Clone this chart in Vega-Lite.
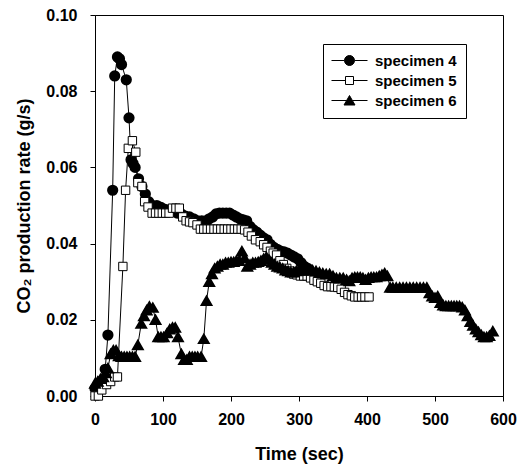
{
  "$schema": "https://vega.github.io/schema/vega-lite/v6.json",
  "width": 408,
  "height": 381,
  "autosize": {"type": "none"},
  "padding": {"left": 95, "top": 15, "right": 23, "bottom": 68},
  "background": "white",
  "config": {
    "view": {"stroke": "black", "strokeWidth": 1},
    "font": "Liberation Sans",
    "axis": {
      "grid": false,
      "labelFlush": false,
      "domainColor": "black",
      "domainWidth": 1,
      "tickColor": "black",
      "tickSize": 5,
      "labelFont": "Liberation Sans",
      "labelFontWeight": "bold",
      "labelFontSize": 16,
      "labelColor": "black",
      "titleFont": "Liberation Sans",
      "titleFontWeight": "bold",
      "titleFontSize": 18,
      "titleColor": "black"
    }
  },
  "datasets": {
    "rows": [
      {"s": "specimen 4", "t": 0, "v": 0.002},
      {"s": "specimen 4", "t": 5, "v": 0.003},
      {"s": "specimen 4", "t": 10, "v": 0.004},
      {"s": "specimen 4", "t": 15, "v": 0.007},
      {"s": "specimen 4", "t": 19, "v": 0.016},
      {"s": "specimen 4", "t": 26, "v": 0.054},
      {"s": "specimen 4", "t": 29, "v": 0.084},
      {"s": "specimen 4", "t": 33, "v": 0.089},
      {"s": "specimen 4", "t": 36, "v": 0.0885},
      {"s": "specimen 4", "t": 39, "v": 0.087},
      {"s": "specimen 4", "t": 46, "v": 0.083},
      {"s": "specimen 4", "t": 50, "v": 0.073},
      {"s": "specimen 4", "t": 53, "v": 0.062},
      {"s": "specimen 4", "t": 56, "v": 0.061},
      {"s": "specimen 4", "t": 59, "v": 0.06},
      {"s": "specimen 4", "t": 64, "v": 0.057},
      {"s": "specimen 4", "t": 69, "v": 0.055},
      {"s": "specimen 4", "t": 74, "v": 0.053},
      {"s": "specimen 4", "t": 79, "v": 0.051},
      {"s": "specimen 4", "t": 85, "v": 0.05},
      {"s": "specimen 4", "t": 91, "v": 0.05},
      {"s": "specimen 4", "t": 97, "v": 0.0495},
      {"s": "specimen 4", "t": 103, "v": 0.049},
      {"s": "specimen 4", "t": 109, "v": 0.0488},
      {"s": "specimen 4", "t": 115, "v": 0.0485},
      {"s": "specimen 4", "t": 121, "v": 0.048},
      {"s": "specimen 4", "t": 127, "v": 0.0478},
      {"s": "specimen 4", "t": 133, "v": 0.0472},
      {"s": "specimen 4", "t": 139, "v": 0.047},
      {"s": "specimen 4", "t": 145, "v": 0.0465},
      {"s": "specimen 4", "t": 151, "v": 0.046},
      {"s": "specimen 4", "t": 157, "v": 0.046},
      {"s": "specimen 4", "t": 163, "v": 0.046},
      {"s": "specimen 4", "t": 168, "v": 0.0465},
      {"s": "specimen 4", "t": 173, "v": 0.047},
      {"s": "specimen 4", "t": 178, "v": 0.0478},
      {"s": "specimen 4", "t": 183, "v": 0.048},
      {"s": "specimen 4", "t": 188, "v": 0.048},
      {"s": "specimen 4", "t": 193, "v": 0.048},
      {"s": "specimen 4", "t": 198, "v": 0.048},
      {"s": "specimen 4", "t": 203, "v": 0.0475},
      {"s": "specimen 4", "t": 208, "v": 0.047},
      {"s": "specimen 4", "t": 213, "v": 0.0465},
      {"s": "specimen 4", "t": 218, "v": 0.0462},
      {"s": "specimen 4", "t": 223, "v": 0.046},
      {"s": "specimen 4", "t": 228, "v": 0.0445},
      {"s": "specimen 4", "t": 233, "v": 0.0436},
      {"s": "specimen 4", "t": 238, "v": 0.043},
      {"s": "specimen 4", "t": 243, "v": 0.0422},
      {"s": "specimen 4", "t": 248, "v": 0.0415},
      {"s": "specimen 4", "t": 253, "v": 0.041},
      {"s": "specimen 4", "t": 258, "v": 0.0398},
      {"s": "specimen 4", "t": 263, "v": 0.039},
      {"s": "specimen 4", "t": 268, "v": 0.0385},
      {"s": "specimen 4", "t": 273, "v": 0.038},
      {"s": "specimen 4", "t": 278, "v": 0.0378},
      {"s": "specimen 4", "t": 283, "v": 0.0375},
      {"s": "specimen 4", "t": 288, "v": 0.037},
      {"s": "specimen 4", "t": 293, "v": 0.0365},
      {"s": "specimen 4", "t": 298, "v": 0.036},
      {"s": "specimen 4", "t": 303, "v": 0.035},
      {"s": "specimen 4", "t": 308, "v": 0.034},
      {"s": "specimen 4", "t": 313, "v": 0.0335},

      {"s": "specimen 5", "t": 0, "v": 0},
      {"s": "specimen 5", "t": 5, "v": 0},
      {"s": "specimen 5", "t": 10, "v": 0.0016},
      {"s": "specimen 5", "t": 17, "v": 0.003},
      {"s": "specimen 5", "t": 23, "v": 0.0038},
      {"s": "specimen 5", "t": 29, "v": 0.005},
      {"s": "specimen 5", "t": 33, "v": 0.005},
      {"s": "specimen 5", "t": 41, "v": 0.034},
      {"s": "specimen 5", "t": 45, "v": 0.054},
      {"s": "specimen 5", "t": 49, "v": 0.065},
      {"s": "specimen 5", "t": 55, "v": 0.067},
      {"s": "specimen 5", "t": 60, "v": 0.064},
      {"s": "specimen 5", "t": 63, "v": 0.056},
      {"s": "specimen 5", "t": 69, "v": 0.055},
      {"s": "specimen 5", "t": 73, "v": 0.051},
      {"s": "specimen 5", "t": 78, "v": 0.0496},
      {"s": "specimen 5", "t": 84, "v": 0.048},
      {"s": "specimen 5", "t": 89, "v": 0.048},
      {"s": "specimen 5", "t": 94, "v": 0.048},
      {"s": "specimen 5", "t": 99, "v": 0.048},
      {"s": "specimen 5", "t": 104, "v": 0.048},
      {"s": "specimen 5", "t": 109, "v": 0.048},
      {"s": "specimen 5", "t": 114, "v": 0.0493},
      {"s": "specimen 5", "t": 119, "v": 0.0493},
      {"s": "specimen 5", "t": 124, "v": 0.0493},
      {"s": "specimen 5", "t": 129, "v": 0.047},
      {"s": "specimen 5", "t": 134, "v": 0.046},
      {"s": "specimen 5", "t": 139, "v": 0.0457},
      {"s": "specimen 5", "t": 144, "v": 0.0455},
      {"s": "specimen 5", "t": 150, "v": 0.0449},
      {"s": "specimen 5", "t": 155, "v": 0.0438},
      {"s": "specimen 5", "t": 160, "v": 0.0438},
      {"s": "specimen 5", "t": 165, "v": 0.0438},
      {"s": "specimen 5", "t": 170, "v": 0.0438},
      {"s": "specimen 5", "t": 175, "v": 0.0438},
      {"s": "specimen 5", "t": 180, "v": 0.0438},
      {"s": "specimen 5", "t": 185, "v": 0.0438},
      {"s": "specimen 5", "t": 190, "v": 0.0438},
      {"s": "specimen 5", "t": 195, "v": 0.0438},
      {"s": "specimen 5", "t": 200, "v": 0.0438},
      {"s": "specimen 5", "t": 205, "v": 0.0438},
      {"s": "specimen 5", "t": 210, "v": 0.0438},
      {"s": "specimen 5", "t": 215, "v": 0.0438},
      {"s": "specimen 5", "t": 220, "v": 0.0436},
      {"s": "specimen 5", "t": 225, "v": 0.043},
      {"s": "specimen 5", "t": 230, "v": 0.042},
      {"s": "specimen 5", "t": 236, "v": 0.041},
      {"s": "specimen 5", "t": 243, "v": 0.0405},
      {"s": "specimen 5", "t": 248, "v": 0.0397},
      {"s": "specimen 5", "t": 253, "v": 0.039},
      {"s": "specimen 5", "t": 258, "v": 0.038},
      {"s": "specimen 5", "t": 262, "v": 0.0375},
      {"s": "specimen 5", "t": 267, "v": 0.037},
      {"s": "specimen 5", "t": 272, "v": 0.0355},
      {"s": "specimen 5", "t": 277, "v": 0.0345},
      {"s": "specimen 5", "t": 282, "v": 0.0335},
      {"s": "specimen 5", "t": 287, "v": 0.0328},
      {"s": "specimen 5", "t": 292, "v": 0.032},
      {"s": "specimen 5", "t": 297, "v": 0.0318},
      {"s": "specimen 5", "t": 302, "v": 0.0315},
      {"s": "specimen 5", "t": 307, "v": 0.0315},
      {"s": "specimen 5", "t": 312, "v": 0.0315},
      {"s": "specimen 5", "t": 317, "v": 0.031},
      {"s": "specimen 5", "t": 322, "v": 0.0304},
      {"s": "specimen 5", "t": 327, "v": 0.03},
      {"s": "specimen 5", "t": 332, "v": 0.0296},
      {"s": "specimen 5", "t": 337, "v": 0.029},
      {"s": "specimen 5", "t": 342, "v": 0.0287},
      {"s": "specimen 5", "t": 347, "v": 0.0287},
      {"s": "specimen 5", "t": 352, "v": 0.0286},
      {"s": "specimen 5", "t": 357, "v": 0.0285},
      {"s": "specimen 5", "t": 362, "v": 0.028},
      {"s": "specimen 5", "t": 367, "v": 0.0272},
      {"s": "specimen 5", "t": 372, "v": 0.0266},
      {"s": "specimen 5", "t": 377, "v": 0.0263},
      {"s": "specimen 5", "t": 382, "v": 0.026},
      {"s": "specimen 5", "t": 387, "v": 0.026},
      {"s": "specimen 5", "t": 392, "v": 0.026},
      {"s": "specimen 5", "t": 397, "v": 0.026},
      {"s": "specimen 5", "t": 403, "v": 0.026},

      {"s": "specimen 6", "t": 0, "v": 0.0033},
      {"s": "specimen 6", "t": 4, "v": 0.0038},
      {"s": "specimen 6", "t": 8, "v": 0.0045},
      {"s": "specimen 6", "t": 12, "v": 0.005},
      {"s": "specimen 6", "t": 16, "v": 0.006},
      {"s": "specimen 6", "t": 19, "v": 0.0073},
      {"s": "specimen 6", "t": 23, "v": 0.011},
      {"s": "specimen 6", "t": 27, "v": 0.012},
      {"s": "specimen 6", "t": 31, "v": 0.012},
      {"s": "specimen 6", "t": 35, "v": 0.0105},
      {"s": "specimen 6", "t": 39, "v": 0.0103},
      {"s": "specimen 6", "t": 43, "v": 0.0103},
      {"s": "specimen 6", "t": 47, "v": 0.0103},
      {"s": "specimen 6", "t": 51, "v": 0.0103},
      {"s": "specimen 6", "t": 55, "v": 0.0103},
      {"s": "specimen 6", "t": 59, "v": 0.0103},
      {"s": "specimen 6", "t": 63, "v": 0.0134},
      {"s": "specimen 6", "t": 68, "v": 0.019},
      {"s": "specimen 6", "t": 72, "v": 0.021},
      {"s": "specimen 6", "t": 76, "v": 0.0225},
      {"s": "specimen 6", "t": 80, "v": 0.0235},
      {"s": "specimen 6", "t": 85, "v": 0.0232},
      {"s": "specimen 6", "t": 89, "v": 0.02},
      {"s": "specimen 6", "t": 93, "v": 0.0155},
      {"s": "specimen 6", "t": 97, "v": 0.0155},
      {"s": "specimen 6", "t": 101, "v": 0.0155},
      {"s": "specimen 6", "t": 106, "v": 0.0165},
      {"s": "specimen 6", "t": 110, "v": 0.0175},
      {"s": "specimen 6", "t": 114, "v": 0.018},
      {"s": "specimen 6", "t": 118, "v": 0.018},
      {"s": "specimen 6", "t": 122, "v": 0.0155},
      {"s": "specimen 6", "t": 127, "v": 0.011},
      {"s": "specimen 6", "t": 131, "v": 0.0095},
      {"s": "specimen 6", "t": 135, "v": 0.0095},
      {"s": "specimen 6", "t": 139, "v": 0.0103},
      {"s": "specimen 6", "t": 143, "v": 0.0103},
      {"s": "specimen 6", "t": 147, "v": 0.0103},
      {"s": "specimen 6", "t": 151, "v": 0.0103},
      {"s": "specimen 6", "t": 156, "v": 0.0103},
      {"s": "specimen 6", "t": 160, "v": 0.015},
      {"s": "specimen 6", "t": 164, "v": 0.025},
      {"s": "specimen 6", "t": 168, "v": 0.03},
      {"s": "specimen 6", "t": 172, "v": 0.032},
      {"s": "specimen 6", "t": 176, "v": 0.0335},
      {"s": "specimen 6", "t": 180, "v": 0.034},
      {"s": "specimen 6", "t": 184, "v": 0.0345},
      {"s": "specimen 6", "t": 188, "v": 0.0345},
      {"s": "specimen 6", "t": 192, "v": 0.035},
      {"s": "specimen 6", "t": 196, "v": 0.035},
      {"s": "specimen 6", "t": 200, "v": 0.0352},
      {"s": "specimen 6", "t": 204, "v": 0.0352},
      {"s": "specimen 6", "t": 208, "v": 0.0355},
      {"s": "specimen 6", "t": 212, "v": 0.0355},
      {"s": "specimen 6", "t": 216, "v": 0.038},
      {"s": "specimen 6", "t": 220, "v": 0.0362},
      {"s": "specimen 6", "t": 224, "v": 0.034},
      {"s": "specimen 6", "t": 228, "v": 0.0345},
      {"s": "specimen 6", "t": 232, "v": 0.035},
      {"s": "specimen 6", "t": 236, "v": 0.035},
      {"s": "specimen 6", "t": 240, "v": 0.0352},
      {"s": "specimen 6", "t": 244, "v": 0.0355},
      {"s": "specimen 6", "t": 248, "v": 0.036},
      {"s": "specimen 6", "t": 252, "v": 0.0365},
      {"s": "specimen 6", "t": 256, "v": 0.0358},
      {"s": "specimen 6", "t": 260, "v": 0.035},
      {"s": "specimen 6", "t": 264, "v": 0.0345},
      {"s": "specimen 6", "t": 268, "v": 0.034},
      {"s": "specimen 6", "t": 272, "v": 0.0338},
      {"s": "specimen 6", "t": 276, "v": 0.0335},
      {"s": "specimen 6", "t": 280, "v": 0.033},
      {"s": "specimen 6", "t": 284, "v": 0.0328},
      {"s": "specimen 6", "t": 288, "v": 0.0325},
      {"s": "specimen 6", "t": 292, "v": 0.0325},
      {"s": "specimen 6", "t": 296, "v": 0.0328},
      {"s": "specimen 6", "t": 300, "v": 0.033},
      {"s": "specimen 6", "t": 305, "v": 0.033},
      {"s": "specimen 6", "t": 310, "v": 0.033},
      {"s": "specimen 6", "t": 315, "v": 0.033},
      {"s": "specimen 6", "t": 320, "v": 0.033},
      {"s": "specimen 6", "t": 325, "v": 0.0328},
      {"s": "specimen 6", "t": 330, "v": 0.0325},
      {"s": "specimen 6", "t": 335, "v": 0.0322},
      {"s": "specimen 6", "t": 340, "v": 0.032},
      {"s": "specimen 6", "t": 345, "v": 0.032},
      {"s": "specimen 6", "t": 350, "v": 0.0315},
      {"s": "specimen 6", "t": 355, "v": 0.031},
      {"s": "specimen 6", "t": 360, "v": 0.031},
      {"s": "specimen 6", "t": 365, "v": 0.031},
      {"s": "specimen 6", "t": 370, "v": 0.0305},
      {"s": "specimen 6", "t": 374, "v": 0.0302},
      {"s": "specimen 6", "t": 378, "v": 0.031},
      {"s": "specimen 6", "t": 382, "v": 0.0312},
      {"s": "specimen 6", "t": 386, "v": 0.0312},
      {"s": "specimen 6", "t": 390, "v": 0.0312},
      {"s": "specimen 6", "t": 394, "v": 0.031},
      {"s": "specimen 6", "t": 398, "v": 0.0305},
      {"s": "specimen 6", "t": 402, "v": 0.031},
      {"s": "specimen 6", "t": 406, "v": 0.0312},
      {"s": "specimen 6", "t": 410, "v": 0.0312},
      {"s": "specimen 6", "t": 414, "v": 0.0312},
      {"s": "specimen 6", "t": 418, "v": 0.0315},
      {"s": "specimen 6", "t": 422, "v": 0.0318},
      {"s": "specimen 6", "t": 426, "v": 0.0322},
      {"s": "specimen 6", "t": 430, "v": 0.0315},
      {"s": "specimen 6", "t": 434, "v": 0.0285},
      {"s": "specimen 6", "t": 438, "v": 0.0285},
      {"s": "specimen 6", "t": 443, "v": 0.0285},
      {"s": "specimen 6", "t": 448, "v": 0.0285},
      {"s": "specimen 6", "t": 453, "v": 0.0285},
      {"s": "specimen 6", "t": 458, "v": 0.0285},
      {"s": "specimen 6", "t": 463, "v": 0.0285},
      {"s": "specimen 6", "t": 468, "v": 0.0285},
      {"s": "specimen 6", "t": 473, "v": 0.0285},
      {"s": "specimen 6", "t": 478, "v": 0.0285},
      {"s": "specimen 6", "t": 483, "v": 0.0285},
      {"s": "specimen 6", "t": 488, "v": 0.0285},
      {"s": "specimen 6", "t": 492, "v": 0.027},
      {"s": "specimen 6", "t": 496, "v": 0.0262},
      {"s": "specimen 6", "t": 500, "v": 0.0258},
      {"s": "specimen 6", "t": 504, "v": 0.0262},
      {"s": "specimen 6", "t": 508, "v": 0.0245},
      {"s": "specimen 6", "t": 512, "v": 0.0238},
      {"s": "specimen 6", "t": 516, "v": 0.0236},
      {"s": "specimen 6", "t": 520, "v": 0.0236},
      {"s": "specimen 6", "t": 524, "v": 0.0236},
      {"s": "specimen 6", "t": 528, "v": 0.0236},
      {"s": "specimen 6", "t": 532, "v": 0.0236},
      {"s": "specimen 6", "t": 536, "v": 0.0236},
      {"s": "specimen 6", "t": 540, "v": 0.0233},
      {"s": "specimen 6", "t": 544, "v": 0.0225},
      {"s": "specimen 6", "t": 548, "v": 0.021},
      {"s": "specimen 6", "t": 552, "v": 0.0195},
      {"s": "specimen 6", "t": 556, "v": 0.0185},
      {"s": "specimen 6", "t": 560, "v": 0.0175},
      {"s": "specimen 6", "t": 564, "v": 0.0168},
      {"s": "specimen 6", "t": 568, "v": 0.016},
      {"s": "specimen 6", "t": 572, "v": 0.0155},
      {"s": "specimen 6", "t": 576, "v": 0.0155},
      {"s": "specimen 6", "t": 580, "v": 0.0158},
      {"s": "specimen 6", "t": 585, "v": 0.017}
    ]
  },
  "data": {"name": "rows"},
  "encoding": {
    "x": {
      "field": "t", "type": "quantitative",
      "scale": {"domain": [0, 600], "nice": false, "zero": false},
      "axis": {"values": [0, 100, 200, 300, 400, 500, 600], "title": "Time (sec)", "labelPadding": 10, "titlePadding": 18}
    },
    "y": {
      "field": "v", "type": "quantitative",
      "scale": {"domain": [0, 0.1], "nice": false},
      "axis": {"values": [0, 0.02, 0.04, 0.06, 0.08, 0.1], "format": ".2f", "title": "CO₂ production rate (g/s)", "labelPadding": 13, "titlePadding": 12}
    }
  },
  "layer": [
    {
      "mark": {"type": "line", "stroke": "black", "strokeWidth": 1},
      "encoding": {"detail": {"field": "s"}, "order": {"field": "t"}}
    },
    {
      "transform": [{"filter": {"field": "s", "equal": "specimen 4"}}],
      "mark": {"type": "point", "shape": "circle", "filled": true, "fill": "black", "stroke": "black", "size": 85, "opacity": 1}
    },
    {
      "transform": [{"filter": {"field": "s", "equal": "specimen 5"}}],
      "mark": {"type": "point", "shape": "square", "fill": "white", "stroke": "black", "strokeWidth": 1, "size": 70, "opacity": 1}
    },
    {
      "transform": [{"filter": {"field": "s", "equal": "specimen 6"}}],
      "mark": {"type": "point", "shape": "triangle-up", "filled": true, "fill": "black", "stroke": "black", "size": 95, "opacity": 1}
    },
    {
      "transform": [{"filter": {"field": "s", "equal": "none"}}],
      "mark": {"type": "point", "strokeWidth": 1, "opacity": 1, "size": 100},
      "encoding": {
        "shape": {
          "field": "s", "type": "nominal",
          "scale": {
            "domain": ["specimen 4", "specimen 5", "specimen 6"],
            "range": [
              "M-3.6,0H-1M1,0H3.6M1,0A1,1,0,1,1,-1,0A1,1,0,1,1,1,0Z",
              "M-3.6,0H-0.8M0.8,0H3.6M-0.8,-0.8H0.8V0.8H-0.8Z",
              "M-3.6,0H-0.6M0.6,0H3.6M0,-1L1.1,0.9H-1.1Z"
            ]
          },
          "legend": {
            "title": null,
            "orient": "none",
            "legendX": 228,
            "legendY": 29,
            "strokeColor": "black",
            "fillColor": "white",
            "padding": 9,
            "symbolOffset": 10,
            "symbolSize": 100,
            "symbolStrokeWidth": 1,
            "labelOffset": 18,
            "labelFont": "Liberation Sans",
            "labelFontWeight": "bold",
            "labelFontSize": 15,
            "labelColor": "black",
            "rowPadding": 4
          }
        },
        "fill": {
          "field": "s", "type": "nominal",
          "scale": {"domain": ["specimen 4", "specimen 5", "specimen 6"], "range": ["black", "white", "black"]},
          "legend": {"title": null}
        },
        "stroke": {
          "field": "s", "type": "nominal",
          "scale": {"domain": ["specimen 4", "specimen 5", "specimen 6"], "range": ["black", "black", "black"]},
          "legend": {"title": null}
        }
      }
    }
  ]
}
